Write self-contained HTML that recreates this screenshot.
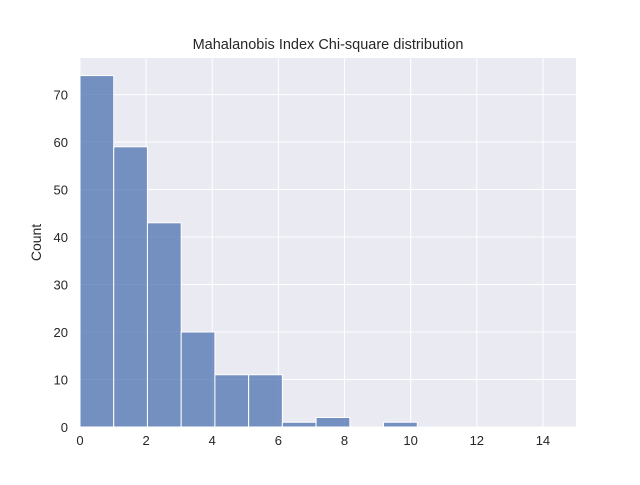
<!DOCTYPE html>
<html><head><meta charset="utf-8"><style>
body{margin:0;background:#fff;}
svg{font-family:"Liberation Sans","DejaVu Sans",sans-serif;}
</style></head><body>
<svg id="c" width="640" height="480"></svg>
<script>
const binStart = 0;
const binWidth = 1.02;
const counts = [74,59,43,20,11,11,1,2,0,1,0,0,0,0];
const xTicks = [0,2,4,6,8,10,12,14];
const yTicks = [0,10,20,30,40,50,60,70];
const L=80,R=576,T=58,B=427;
const xMax=15, yMax=77.7;
const xs=v=>L+(v/xMax)*(R-L);
const ys=v=>B-(v/yMax)*(B-T);
const svg=document.getElementById('c');
const NS='http://www.w3.org/2000/svg';
function mk(t,a,p){const e=document.createElementNS(NS,t);for(const k in a)e.setAttribute(k,a[k]);(p||svg).appendChild(e);return e;}
const bg=mk('rect',{x:L,y:T,width:R-L,height:B-T,fill:'#eaeaf2'});


xTicks.forEach(t=>{
  const l=mk('line',{x1:xs(t),x2:xs(t),y1:T,y2:B,stroke:'#fff','stroke-width':1});
  
  
  const tx=mk('text',{x:xs(t),y:B+18,'text-anchor':'middle','font-size':13,fill:'#262626'});
  tx.textContent=t;
  
  
});
yTicks.forEach(t=>{
  const l=mk('line',{x1:L,x2:R,y1:ys(t),y2:ys(t),stroke:'#fff','stroke-width':1});
  
  
  const tx=mk('text',{x:L-12,y:ys(t)+5,'text-anchor':'end','font-size':13,fill:'#262626'});
  tx.textContent=t;
  
  
});
counts.forEach((c,i)=>{
  if(c<=0)return;
  const x0=xs(binStart+i*binWidth),x1=xs(binStart+(i+1)*binWidth);
  const r=mk('rect',{x:x0,y:ys(c),width:x1-x0,height:B-ys(c),fill:'#4c72b0','fill-opacity':0.75,stroke:'#fff','stroke-width':1});
  
  
});
const ti=mk('text',{x:(L+R)/2,y:49,'text-anchor':'middle','font-size':14.5,fill:'#262626'});
ti.textContent='Mahalanobis Index Chi-square distribution';


const yl=mk('text',{x:0,y:0,'text-anchor':'middle','font-size':14,fill:'#262626',transform:`translate(41,${(T+B)/2}) rotate(-90)`});
yl.textContent='Count';


</script>
</body></html>
